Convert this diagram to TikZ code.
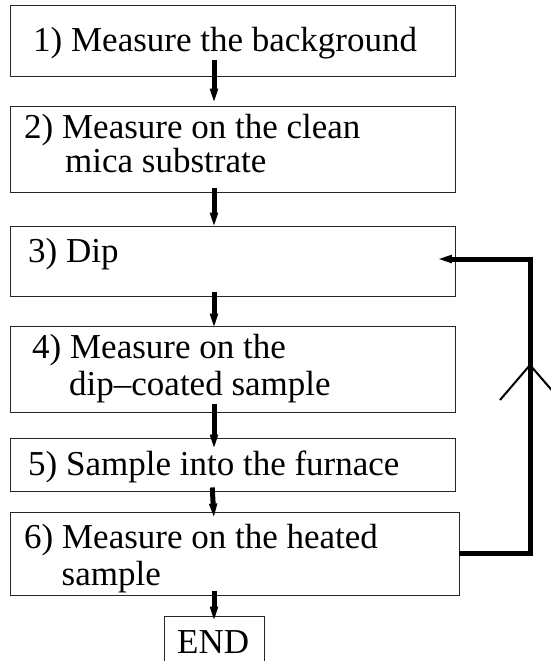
\documentclass[tikz,border=0pt]{standalone}
\usepackage{fontspec}
\setmainfont{Liberation Serif}
\usetikzlibrary{arrows.meta}
\begin{document}
\begin{tikzpicture}[x=1pt,y=-1pt,
  box/.style={draw=black!85,line width=0.9pt,inner sep=0pt},
  lbl/.style={anchor=base west,inner sep=0pt,font=\fontsize{35}{40}\selectfont},
  flow/.style={line width=5pt,-{Triangle[length=16pt,width=7pt]}},
  loopline/.style={line width=5pt,-{Triangle[length=16pt,width=7pt]}},
  chev/.style={line width=2pt}]
\useasboundingbox (0,0) rectangle (551,661);
\clip (0,0) rectangle (551,661);
% boxes
\node[box,minimum width=445pt,minimum height=70.7pt] (b1) at (233,40.65) {};
\node[box,minimum width=445pt,minimum height=86pt] (b2) at (233,149) {};
\node[box,minimum width=445pt,minimum height=70pt] (b3) at (233,261) {};
\node[box,minimum width=445pt,minimum height=86pt] (b4) at (233,369) {};
\node[box,minimum width=445pt,minimum height=53pt] (b5) at (233,464.5) {};
\node[box,minimum width=448.5pt,minimum height=83pt] (b6) at (234.75,553.5) {};
\node[box,minimum width=100pt,minimum height=80pt] (e) at (214,656) {};
% labels
\node[lbl] (t1) at (33,52) {1) Measure the background};
\node[lbl] (t2a) at (24,138) {2) Measure on the clean};
\node[lbl] (t2b) at (65,172) {mica substrate};
\node[lbl] (t3) at (28,262) {3) Dip};
\node[lbl] (t4a) at (32,358) {4) Measure on the};
\node[lbl] (t4b) at (69,395) {dip–coated sample};
\node[lbl] (t5) at (28,475) {5) Sample into the furnace};
\node[lbl] (t6a) at (24,548) {6) Measure on the heated};
\node[lbl] (t6b) at (61.5,585) {sample};
\node[lbl] (te) at (177,653) {END};
% flow arrows
\draw[flow] ([xshift=-19pt,yshift=16pt]b1.south) -- ([xshift=-19pt,yshift=1pt]b2.north);
\draw[flow] ([xshift=-19pt,yshift=4pt]b2.south) -- ([xshift=-19pt,yshift=-3pt]b3.north);
\draw[flow] ([xshift=-19pt,yshift=4pt]b3.south) -- ([xshift=-19pt,yshift=-4pt]b4.north);
\draw[flow] ([xshift=-19pt,yshift=8pt]b4.south) -- ([xshift=-19pt,yshift=-13pt]b5.north);
\draw[flow] ([xshift=-20.75pt,yshift=4pt]b5.south) -- ([xshift=-20.75pt,yshift=-8pt]b6.north);
\draw[flow] ([xshift=-20.75pt,yshift=4pt]b6.south) -- ([yshift=-7pt]e.north);
% loop back
\coordinate (lc) at (530,259);
\draw[loopline] (b6.east) -| (lc) -- ([xshift=-20pt,yshift=2pt]b3.east);
\draw[chev] (500,400) -- (530,365) -- (562,402);
\end{tikzpicture}
\end{document}
